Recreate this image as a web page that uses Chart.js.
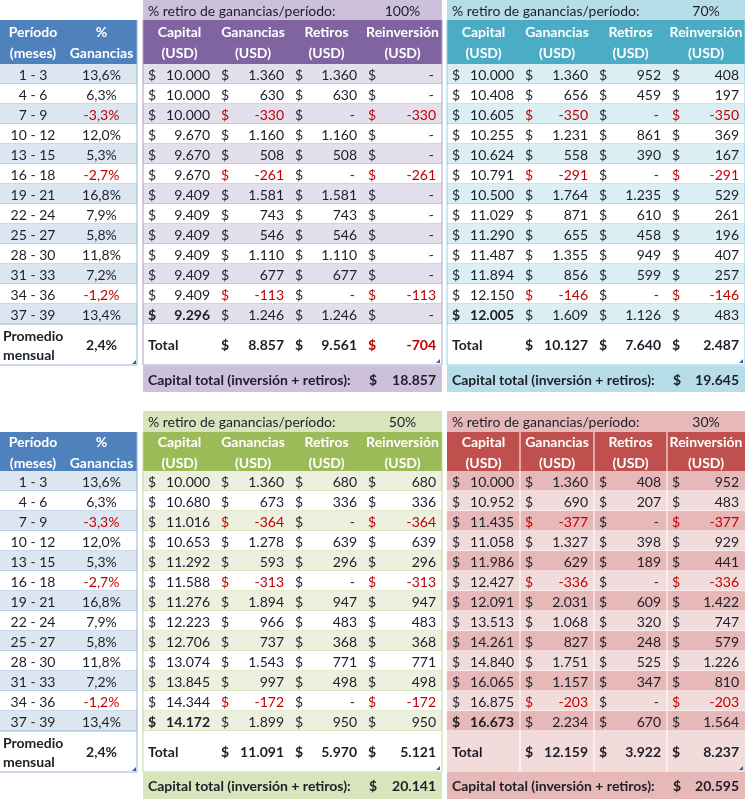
<!DOCTYPE html>
<html>
<head>
<meta charset="utf-8">
<script src="https://cdn.jsdelivr.net/npm/chart.js@4.4.1/dist/chart.umd.min.js"></script>
<style>
  body { margin: 0; background: #fff; }
  #wrap { width: 745px; height: 799px; }
</style>
</head>
<body>
<div id="wrap"><canvas id="tabla" width="745" height="799"></canvas></div>
<script>
// datos comunes
var periodos = ['1 - 3', '4 - 6', '7 - 9', '10 - 12', '13 - 15', '16 - 18', '19 - 21',
                '22 - 24', '25 - 27', '28 - 30', '31 - 33', '34 - 36', '37 - 39'];
var pctGanancias = [13.6, 6.3, -3.3, 12.0, 5.3, -2.7, 16.8, 7.9, 5.8, 11.8, 7.2, -1.2, 13.4];
var promedioMensual = 2.4;
var encabezados = ['Capital', 'Ganancias', 'Retiros', 'Reinversión'];

// retiro 100%
var capital100 = [10000, 10000, 10000, 9670, 9670, 9670, 9409, 9409, 9409, 9409, 9409, 9409, 9296];
var ganancias100 = [1360, 630, -330, 1160, 508, -261, 1581, 743, 546, 1110, 677, -113, 1246];
var retiros100 = [1360, 630, 0, 1160, 508, 0, 1581, 743, 546, 1110, 677, 0, 1246];
var reinversion100 = [0, 0, -330, 0, 0, -261, 0, 0, 0, 0, 0, -113, 0];
var totales100 = [8857, 9561, -704];
var capitalTotal100 = 18857;

// retiro 70%
var capital70 = [10000, 10408, 10605, 10255, 10624, 10791, 10500, 11029, 11290, 11487, 11894, 12150, 12005];
var ganancias70 = [1360, 656, -350, 1231, 558, -291, 1764, 871, 655, 1355, 856, -146, 1609];
var retiros70 = [952, 459, 0, 861, 390, 0, 1235, 610, 458, 949, 599, 0, 1126];
var reinversion70 = [408, 197, -350, 369, 167, -291, 529, 261, 196, 407, 257, -146, 483];
var totales70 = [10127, 7640, 2487];
var capitalTotal70 = 19645;

// retiro 50%
var capital50 = [10000, 10680, 11016, 10653, 11292, 11588, 11276, 12223, 12706, 13074, 13845, 14344, 14172];
var ganancias50 = [1360, 673, -364, 1278, 593, -313, 1894, 966, 737, 1543, 997, -172, 1899];
var retiros50 = [680, 336, 0, 639, 296, 0, 947, 483, 368, 771, 498, 0, 950];
var reinversion50 = [680, 336, -364, 639, 296, -313, 947, 483, 368, 771, 498, -172, 950];
var totales50 = [11091, 5970, 5121];
var capitalTotal50 = 20141;

// retiro 30%
var capital30 = [10000, 10952, 11435, 11058, 11986, 12427, 12091, 13513, 14261, 14840, 16065, 16875, 16673];
var ganancias30 = [1360, 690, -377, 1327, 629, -336, 2031, 1068, 827, 1751, 1157, -203, 2234];
var retiros30 = [408, 207, 0, 398, 189, 0, 609, 320, 248, 525, 347, 0, 670];
var reinversion30 = [952, 483, -377, 929, 441, -336, 1422, 747, 579, 1226, 810, -203, 1564];
var totales30 = [12159, 3922, 8237];
var capitalTotal30 = 20595;

var escenarios = [
  { pct: 100, cols: [capital100, ganancias100, retiros100, reinversion100], totales: totales100, capTotal: capitalTotal100 },
  { pct: 70, cols: [capital70, ganancias70, retiros70, reinversion70], totales: totales70, capTotal: capitalTotal70 },
  { pct: 50, cols: [capital50, ganancias50, retiros50, reinversion50], totales: totales50, capTotal: capitalTotal50 },
  { pct: 30, cols: [capital30, ganancias30, retiros30, reinversion30], totales: totales30, capTotal: capitalTotal30 }
];

// colores estilo Excel
var temas = [
  { light: '#CCC0DA', dark: '#8064A2', band: '#E4DFEC', plain: '#FFFFFF', line: '#B1A0C7', total: '#FFFFFF', vlines: false },
  { light: '#B7DEE8', dark: '#4BACC6', band: '#DAEEF3', plain: '#FFFFFF', line: '#92CDDC', total: '#FFFFFF', vlines: false },
  { light: '#D8E4BC', dark: '#9BBB59', band: '#EBF1DE', plain: '#FFFFFF', line: '#C4D79B', total: '#FFFFFF', vlines: false },
  { light: '#E6B8B7', dark: '#C0504D', band: '#E6B8B7', plain: '#F2DCDB', line: '#FFFFFF', total: '#F2DCDB', vlines: true }
];

var bloques = [
  { title: [0, 20], hdr: [20, 64], row0: 64, rowH: 20, total: [324, 365], cap: [366, 392] },
  { title: [411, 432], hdr: [432, 471], row0: 471, rowH: 20, total: [731, 772], cap: [772, 799] }
];
var bordesIzq = [143, 216, 290, 363, 442];
var bordesDer = [447, 520, 594, 667, 745];
var bordesPeriodo = [0, 66, 137];

var FONT = 'Lato, Calibri, sans-serif';
var TXT = '#1E1E28';
var RED = '#C00000';

function fmt(v) {
  if (v === 0) return '-';
  var s = Math.abs(v).toString().replace(/\B(?=(\d{3})+(?!\d))/g, '.');
  return (v < 0 ? '-' : '') + s;
}
function fmtPct(v) {
  return v.toFixed(1).replace('.', ',') + '%';
}

var tablaPlugin = {
  id: 'tabla',
  afterDraw: function(chart) {
    var ctx = chart.ctx;
    var sx = chart.scales.x, sy = chart.scales.y;
    function X(v) { return sx.getPixelForValue(v); }
    function Y(v) { return sy.getPixelForValue(v); }
    function rect(x0, y0, x1, y1, c) {
      ctx.fillStyle = c;
      ctx.fillRect(X(x0), Y(y0), X(x1) - X(x0), Y(y1) - Y(y0));
    }
    function hline(x0, x1, y, c) {
      ctx.fillStyle = c;
      ctx.fillRect(X(x0), Y(y) - 0.5, X(x1) - X(x0), 1);
    }
    function vline(x, y0, y1, c) {
      ctx.fillStyle = c;
      ctx.fillRect(X(x) - 0.5, Y(y0), 1, Y(y1) - Y(y0));
    }
    function text(s, x, y, align, bold, color) {
      ctx.font = (bold ? 'bold ' : '') + '14px ' + FONT;
      ctx.textAlign = align;
      ctx.textBaseline = 'middle';
      ctx.fillStyle = color || TXT;
      ctx.fillText(s, X(x), Y(y) + 1);
    }
    function handle(x, y) {
      ctx.fillStyle = '#3A5A9A';
      ctx.beginPath();
      ctx.moveTo(X(x - 4), Y(y));
      ctx.lineTo(X(x), Y(y - 4));
      ctx.lineTo(X(x), Y(y));
      ctx.closePath();
      ctx.fill();
    }

    bloques.forEach(function(g, b) {
      // tabla de periodos
      var e = bordesPeriodo;
      var hm = (g.hdr[0] + g.hdr[1]) / 2;
      rect(e[0], g.hdr[0], e[2], g.hdr[1], '#4F81BD');
      text('Período', (e[0] + e[1]) / 2, hm - 10.5, 'center', true, '#FFFFFF');
      text('(meses)', (e[0] + e[1]) / 2, hm + 10.5, 'center', true, '#FFFFFF');
      text('%', (e[1] + e[2]) / 2, hm - 10.5, 'center', true, '#FFFFFF');
      text('Ganancias', (e[1] + e[2]) / 2, hm + 10.5, 'center', true, '#FFFFFF');
      periodos.forEach(function(p, i) {
        var y0 = g.row0 + i * g.rowH, y1 = y0 + g.rowH;
        rect(e[0], y0, e[2], y1, i % 2 === 0 ? '#DCE6F1' : '#FFFFFF');
        hline(e[0], e[2], y1, '#95B3D7');
        var ym = (y0 + y1) / 2;
        text(p, (e[0] + e[1]) / 2, ym, 'center', false);
        var v = pctGanancias[i];
        text(fmtPct(v), (e[1] + e[2]) / 2, ym, 'center', false, v < 0 ? RED : TXT);
      });
      var tm = (g.total[0] + g.total[1]) / 2;
      text('Promedio', 3, tm - 9.5, 'left', true);
      text('mensual', 3, tm + 9.5, 'left', true);
      text(fmtPct(promedioMensual), (e[1] + e[2]) / 2, tm, 'center', true);
      hline(e[0], e[2], g.total[1], '#95B3D7');
      vline(e[2], g.hdr[0], g.total[1], '#95B3D7');
      handle(e[2] - 1, g.total[1] - 1);

      // escenarios
      [bordesIzq, bordesDer].forEach(function(ed, k) {
        var idx = b * 2 + k;
        var s = escenarios[idx], t = temas[idx];
        var x0 = ed[0], x1 = ed[4];
        var tym = (g.title[0] + g.title[1]) / 2;
        rect(x0, g.title[0], x1, g.title[1], t.light);
        text('% retiro de ganancias/período:', x0 + 5, tym, 'left', false);
        text(s.pct + '%', (ed[3] + ed[4]) / 2, tym, 'center', false);

        rect(x0, g.hdr[0], x1, g.hdr[1], t.dark);
        encabezados.forEach(function(h, c) {
          var cx = (ed[c] + ed[c + 1]) / 2;
          text(h, cx, hm - 10.5, 'center', true, '#FFFFFF');
          text('(USD)', cx, hm + 10.5, 'center', true, '#FFFFFF');
        });

        periodos.forEach(function(p, i) {
          var y0 = g.row0 + i * g.rowH, y1 = y0 + g.rowH, ym = (y0 + y1) / 2;
          rect(x0, y0, x1, y1, i % 2 === 0 ? t.band : t.plain);
          hline(x0, x1, y1, t.line);
          s.cols.forEach(function(col, c) {
            var v = col[i];
            var color = v < 0 ? RED : TXT;
            var bold = (c === 0 && i === periodos.length - 1);
            var right = ed[c + 1] - (c === 3 ? 6 : 6);
            text('$', ed[c] + 5, ym, 'left', bold, color);
            text(fmt(v), v === 0 ? right - 2 : right, ym, 'right', bold, color);
          });
        });

        // fila total
        rect(x0, g.total[0], x1, g.total[1], t.total);
        text('Total', x0 + 5, tm, 'left', true);
        s.totales.forEach(function(v, j) {
          var c = j + 1;
          var color = v < 0 ? RED : TXT;
          text('$', ed[c] + 5, tm, 'left', true, color);
          text(fmt(v), ed[c + 1] - 6, tm, 'right', true, color);
        });

        if (t.vlines) {
          for (var c = 1; c < 4; c++) vline(ed[c], g.hdr[0], g.total[1], '#FFFFFF');
        } else {
          hline(x0, x1, g.total[1], t.line);
          vline(x0, g.hdr[0], g.total[1], t.line);
          vline(x1 - (k === 1 ? 0 : 0), g.hdr[0], g.total[1], t.line);
        }
        handle(x1 - 2, g.total[1] - 2);

        // capital total
        var cm = (g.cap[0] + g.cap[1]) / 2;
        rect(x0, g.cap[0], x1, g.cap[1], t.light);
        text('Capital total (inversión + retiros):', x0 + 5, cm, 'left', true);
        text('$', ed[3] + 6, cm, 'left', true);
        text(fmt(s.capTotal), x1 - 6, cm, 'right', true);
      });
    });
  }
};

var ctx = document.getElementById('tabla').getContext('2d');
window.tablaChart = new Chart(ctx, {
  type: 'scatter',
  data: { datasets: [] },
  options: {
    responsive: false,
    animation: false,
    layout: { padding: 0 },
    plugins: { legend: { display: false }, tooltip: { enabled: false } },
    scales: {
      x: { type: 'linear', min: 0, max: 745, display: false },
      y: { type: 'linear', min: 0, max: 799, reverse: true, display: false }
    }
  },
  plugins: [tablaPlugin]
});
</script>
</body>
</html>
